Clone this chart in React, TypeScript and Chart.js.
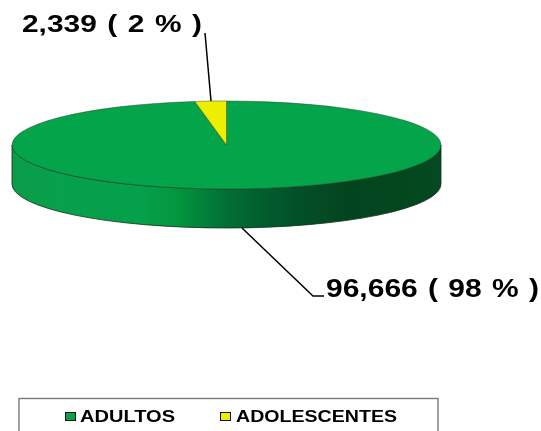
import React, { useEffect, useRef } from "react";
import { Chart, registerables } from "chart.js";

Chart.register(...registerables);

const categories = ["ADULTOS", "ADOLESCENTES"];
const values = [96666, 2339];
const valueLabels = ["96,666 ( 98 % )", "2,339 ( 2 % )"];
const sliceColors = ["#04a44b", "#eeee00"];

const SQUASH = 44 / 214.5;
const DEPTH = 39;

function stretchedText(ctx: CanvasRenderingContext2D, text: string, x: number, baseline: number, width: number, font: string, hscale?: number) {
  ctx.save();
  ctx.font = font;
  ctx.fillStyle = "#000";
  ctx.textAlign = "left";
  ctx.textBaseline = "alphabetic";
  const w = ctx.measureText(text).width;
  const spaces = text.split(" ").length - 1;
  const scale = hscale ?? width / w;
  if (hscale && spaces > 0) {
    (ctx as any).wordSpacing = (width / scale - w) / spaces + "px";
  }
  ctx.translate(x, baseline);
  ctx.scale(scale, 1);
  ctx.fillText(text, 0, 0);
  ctx.restore();
}

const pie3d = {
  id: "pie3d",
  beforeDatasetsDraw(chart: any) {
    const ctx: CanvasRenderingContext2D = chart.ctx;
    const arc = chart.getDatasetMeta(0).data[0];
    const { x, y, outerRadius: r } = arc;
    const ry = r * SQUASH;
    const g = ctx.createLinearGradient(x - r, 0, x + r, 0);
    g.addColorStop(0, "#0b9c49");
    g.addColorStop(0.1, "#08a04a");
    g.addColorStop(0.3, "#05a04a");
    g.addColorStop(0.38, "#03973f");
    g.addColorStop(0.5, "#026f36");
    g.addColorStop(0.56, "#01622f");
    g.addColorStop(0.66, "#035028");
    g.addColorStop(0.78, "#03441e");
    g.addColorStop(1, "#04491f");
    ctx.save();
    ctx.beginPath();
    ctx.ellipse(x, y, r, ry, 0, Math.PI, 0, true);
    ctx.lineTo(x + r, y + DEPTH);
    ctx.ellipse(x, y + DEPTH, r, ry, 0, 0, Math.PI, false);
    ctx.closePath();
    ctx.fillStyle = g;
    ctx.fill();
    ctx.strokeStyle = "#10301c";
    ctx.lineWidth = 0.8;
    ctx.stroke();
    ctx.restore();
    ctx.save();
    ctx.translate(x, y);
    ctx.scale(1, SQUASH);
    ctx.translate(-x, -y);
  },
  afterDatasetsDraw(chart: any) {
    const ctx: CanvasRenderingContext2D = chart.ctx;
    ctx.restore();
    ctx.save();
    ctx.strokeStyle = "#000";
    ctx.lineWidth = 1.5;
    ctx.beginPath();
    ctx.moveTo(205, 33);
    ctx.lineTo(211, 101);
    ctx.moveTo(242, 228);
    ctx.lineTo(313, 296);
    ctx.lineTo(324, 296);
    ctx.stroke();
    ctx.restore();
    stretchedText(ctx, valueLabels[1], 22, 32, 180, "bold 24px 'Liberation Sans'", 1.245);
    stretchedText(ctx, valueLabels[0], 326, 297, 213, "bold 25px 'Liberation Sans'", 1.2);

    ctx.save();
    ctx.strokeStyle = "#777";
    ctx.lineWidth = 1.4;
    ctx.strokeRect(19, 398.5, 419, 50);
    ctx.restore();
    const swatchX = [65, 220];
    const textX = [80, 236];
    const textW = [95, 161];
    categories.forEach((c, i) => {
      ctx.save();
      ctx.fillStyle = sliceColors[i];
      ctx.strokeStyle = "#111";
      ctx.lineWidth = 1;
      ctx.fillRect(swatchX[i] + 0.5, 412.5, 10, 8);
      ctx.strokeRect(swatchX[i] + 0.5, 412.5, 10, 8);
      ctx.restore();
      stretchedText(ctx, c, textX[i], 422, textW[i], "bold 16px 'Liberation Sans'");
    });
  },
};

export default function App() {
  const ref = useRef<HTMLCanvasElement>(null);
  useEffect(() => {
    const chart = new Chart(ref.current!, {
      type: "pie",
      data: {
        labels: categories,
        datasets: [
          {
            data: values,
            backgroundColor: sliceColors,
            borderColor: "#20301f",
            borderWidth: 0.7,
            radius: 214.5,
          } as any,
        ],
      },
      options: {
        responsive: false,
        animation: false,
        layout: { padding: { right: 88, bottom: 141 } },
        plugins: { legend: { display: false }, tooltip: { enabled: false } },
      },
      plugins: [pie3d],
    });
    return () => chart.destroy();
  }, []);
  return (
    <div style={{ position: "fixed", left: 0, top: 0, width: 541, height: 431, background: "#fff" }}>
      <canvas ref={ref} width={541} height={431} style={{ display: "block" }} />
    </div>
  );
}
